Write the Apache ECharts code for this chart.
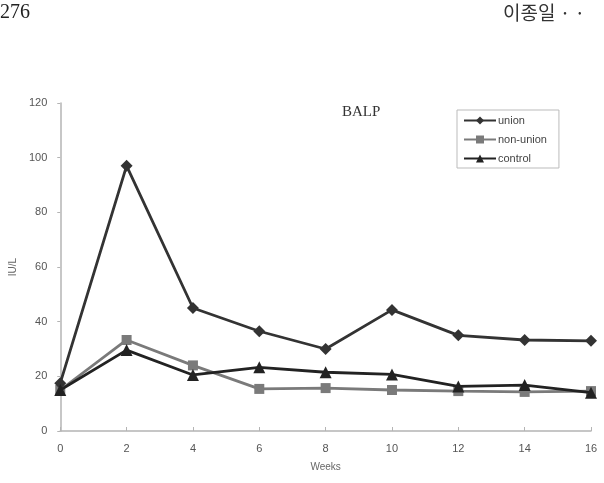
<!DOCTYPE html>
<html>
<head>
<meta charset="utf-8">
<script src="https://cdn.jsdelivr.net/npm/echarts@6/dist/echarts.min.js"></script>
<style>
  html, body { margin: 0; padding: 0; background: #fff; }
  #chart { width: 604px; height: 483px; }
</style>
</head>
<body>
<div id="chart"></div>
<script>
// data
const weeks = [0, 2, 4, 6, 8, 10, 12, 14, 16];
const union = [17.5, 97, 45, 36.5, 30, 44.3, 35, 33.3, 33];
const nonUnion = [15, 33.3, 24, 15.4, 15.7, 15, 14.6, 14.3, 14.6];
const control = [15, 29.6, 20.5, 23.3, 21.5, 20.7, 16.3, 16.8, 14];
const yTicks = [0, 20, 40, 60, 80, 100, 120];

const pairs = vals => weeks.map((w, i) => [w, vals[i]]);

const chart = echarts.init(document.getElementById('chart'));

const axisGray = '#b4b4b4';
const labelStyle = { color: '#555', fontSize: 11, fontFamily: 'Liberation Sans, Arial, sans-serif' };

chart.setOption({
  animation: false,
  backgroundColor: '#fff',
  grid: { left: 58, right: 13, top: 103, bottom: 52 },
  title: {
    text: 'BALP',
    left: 337,
    top: 100,
    textStyle: { fontFamily: 'Liberation Serif, serif', fontSize: 15, fontWeight: 'normal', color: '#333' }
  },
  legend: {
    orient: 'vertical',
    left: 457,
    top: 110,
    width: 102,
    padding: [5, 12, 4, 6],
    itemWidth: 32,
    itemHeight: 10,
    itemGap: 8,
    borderColor: '#bbb',
    borderWidth: 1,
    textStyle: { color: '#444', fontSize: 11, fontFamily: 'Liberation Sans, Arial, sans-serif', padding: [0, 0, 0, -3] },
    data: ['union', 'non-union', 'control']
  },
  xAxis: {
    type: 'value',
    min: 0,
    max: 16,
    interval: 2,
    name: 'Weeks',
    nameLocation: 'middle',
    nameGap: 31,
    nameTextStyle: { color: '#666', fontSize: 10, fontFamily: 'Liberation Sans, Arial, sans-serif' },
    axisLine: { lineStyle: { color: axisGray, width: 1.5 } },
    axisTick: { inside: true, length: 4, lineStyle: { color: axisGray } },
    axisLabel: Object.assign({ margin: 12 }, labelStyle),
    splitLine: { show: false }
  },
  yAxis: {
    type: 'value',
    min: yTicks[0],
    max: yTicks[yTicks.length - 1],
    interval: 20,
    name: 'IU/L',
    nameLocation: 'middle',
    nameGap: 42,
    nameTextStyle: { color: '#666', fontSize: 10, fontFamily: 'Liberation Sans, Arial, sans-serif' },
    axisLine: { show: true, lineStyle: { color: axisGray, width: 1.5 } },
    axisTick: { show: true, length: 3, lineStyle: { color: axisGray } },
    axisLabel: Object.assign({ margin: 13 }, labelStyle),
    splitLine: { show: false }
  },
  series: [
    {
      name: 'union',
      type: 'line',
      data: pairs(union),
      symbol: 'diamond',
      symbolSize: 12,
      z: 3,
      lineStyle: { color: '#333', width: 2.8 },
      itemStyle: { color: '#333' }
    },
    {
      name: 'non-union',
      type: 'line',
      data: pairs(nonUnion),
      symbol: 'rect',
      symbolSize: 10,
      z: 2,
      lineStyle: { color: '#7a7a7a', width: 2.8 },
      itemStyle: { color: '#7a7a7a' }
    },
    {
      name: 'control',
      type: 'line',
      data: pairs(control),
      symbol: 'triangle',
      symbolSize: 12,
      z: 4,
      lineStyle: { color: '#222', width: 2.8 },
      itemStyle: { color: '#222' }
    }
  ],
  graphic: [
    {
      type: 'text',
      left: 0,
      top: 3,
      style: { text: '276', font: '20px "Liberation Serif", serif', fill: '#222' }
    },
    {
      type: 'text',
      left: 503,
      top: 3,
      style: { text: '이종일 · ·', font: '19px "Noto Sans CJK KR", sans-serif', fill: '#333' }
    }
  ]
});
</script>
</body>
</html>
